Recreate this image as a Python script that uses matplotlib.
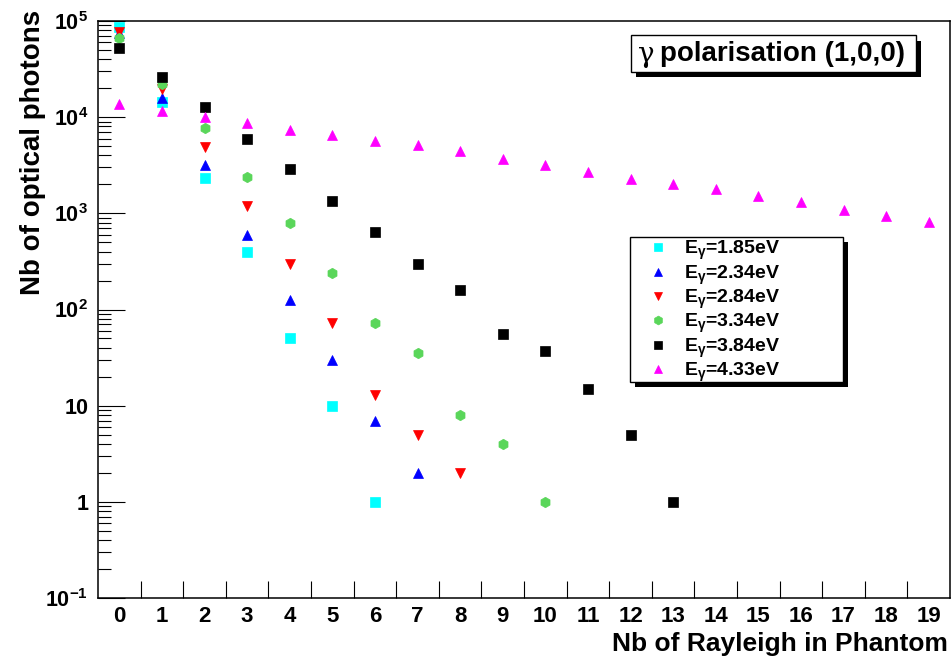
import numpy as np
import matplotlib
matplotlib.use("Agg")
import matplotlib.pyplot as plt
from matplotlib import font_manager
from matplotlib.font_manager import FontProperties
from matplotlib.patches import Rectangle
from matplotlib.ticker import FixedLocator, FuncFormatter, LogLocator, NullFormatter

# ---------------- data ----------------
rayleigh = list(range(20))
tick_labels_x = [str(i) for i in rayleigh]

n_185 = [86000, 14400, 2320, 395, 51, 10, 1]
n_234 = [75000, 16000, 3170, 593, 125, 30, 7, 2]
n_284 = [77000, 19400, 4900, 1190, 294, 73, 13, 5, 2]
n_334 = [66000, 22000, 7700, 2360, 785, 237, 73, 35, 8, 4, 1]
n_384 = [52000, 25900, 12800, 6000, 2880, 1340, 642, 299, 159, 55, 37, 15, 5, 1]
n_433 = [13600, 11600, 10100, 8730, 7330, 6550, 5670, 5080, 4400, 3660,
         3170, 2680, 2300, 2030, 1800, 1510, 1310, 1080, 942, 810]

series_labels = [r"E$_{\gamma}$=1.85eV", r"E$_{\gamma}$=2.34eV", r"E$_{\gamma}$=2.84eV",
                 r"E$_{\gamma}$=3.34eV", r"E$_{\gamma}$=3.84eV", r"E$_{\gamma}$=4.33eV"]
y_tick_values = [1e-1, 1, 10, 1e2, 1e3, 1e4, 1e5]
y_tick_labels = [r"$10^{-1}$", "1", "10", r"$10^{2}$", r"$10^{3}$", r"$10^{4}$", r"$10^{5}$"]

# ---------------- style ----------------
plt.rcParams["font.family"] = ["Liberation Sans", "DejaVu Sans"]
plt.rcParams["font.weight"] = "bold"
plt.rcParams["mathtext.fontset"] = "custom"
plt.rcParams["mathtext.rm"] = "Liberation Sans:bold"
plt.rcParams["mathtext.bf"] = "Liberation Sans:bold"
plt.rcParams["mathtext.it"] = "Liberation Sans:bold"
plt.rcParams["mathtext.sf"] = "Liberation Sans:bold"

names = {f.name for f in font_manager.fontManager.ttflist}
if "Liberation Sans Narrow" in names:
    narrow_family = ["Liberation Sans Narrow", "DejaVu Sans"]
    xt_size, xl_size = 17, 21
else:
    narrow_family = ["Liberation Sans", "DejaVu Sans"]
    xt_size, xl_size = 16, 19

W, H = 953, 660
fig = plt.figure(figsize=(W / 100, H / 100), dpi=100)
ax = fig.add_axes([98 / W, 62 / H, 852 / W, 577 / H])

colors = ["#00ffff", "#0000ff", "#ff0000", "#5ad65a", "#000000", "#ff00ff"]
markers = ["s", "^", "v", "h", "s", "^"]
sizes = [6.8, 6.5, 6.8, 7.5, 6.8, 6.5]
all_series = [n_185, n_234, n_284, n_334, n_384, n_433]

for vals, c, m, s, lab in zip(all_series, colors, markers, sizes, series_labels):
    ax.plot(rayleigh[:len(vals)], vals, linestyle="none", marker=m, ms=s,
            color=c, mec=c, mew=0.5, label=lab, zorder=3, clip_on=False)

ax.set_yscale("log")
ax.set_ylim(0.1, 1e5)
ax.set_xlim(-0.5, 19.5)

# x axis: labels at bin centres, ticks at bin edges
ax.xaxis.set_major_locator(FixedLocator(rayleigh))
ax.set_xticklabels(tick_labels_x)
ax.xaxis.set_minor_locator(FixedLocator(np.arange(0.5, 19, 1.0)))
ax.tick_params(axis="x", which="major", length=0, pad=6, labelsize=xt_size)
ax.tick_params(axis="x", which="minor", length=12.2, width=0.8, direction="in",
               top=False, bottom=True)
for lbl in ax.get_xticklabels():
    lbl.set_fontproperties(FontProperties(family=narrow_family, weight="bold", size=xt_size))

# y axis
ax.yaxis.set_major_locator(FixedLocator(y_tick_values))
lab_map = dict(zip(y_tick_values, y_tick_labels))
ax.yaxis.set_major_formatter(FuncFormatter(
    lambda v, p: min(lab_map.items(), key=lambda kv: abs(np.log10(kv[0]) - np.log10(v)))[1]))
ax.yaxis.set_minor_locator(LogLocator(base=10, subs=np.arange(2, 10), numticks=20))
ax.yaxis.set_minor_formatter(NullFormatter())
ax.tick_params(axis="y", which="major", length=19.4, width=0.8, direction="in",
               pad=7, labelsize=15.5, right=False)
ax.tick_params(axis="y", which="minor", length=9.4, width=0.8, direction="in", right=False)

for sp in ax.spines.values():
    sp.set_linewidth(1.1)

# axis titles
fig.text(33 / W, 1 - 10 / H, "Nb of optical photons", rotation=90, ha="center", va="top",
         fontsize=20, fontweight="bold")
fig.text(948 / W, 1 - 651 / H, "Nb of Rayleigh in Phantom", ha="right", va="baseline",
         fontproperties=FontProperties(family=narrow_family, weight="bold", size=xl_size))

# boxes with shadow
def boxed(x0, y0, x1, y1, off, z):
    ax.add_patch(Rectangle(((x0 + off) / W, 1 - (y1 + off) / H), (x1 - x0) / W, (y1 - y0) / H,
                           transform=fig.transFigure, clip_on=False, facecolor="black",
                           edgecolor="black", lw=0, zorder=z))
    ax.add_patch(Rectangle((x0 / W, 1 - y1 / H), (x1 - x0) / W, (y1 - y0) / H,
                           transform=fig.transFigure, clip_on=False, facecolor="white",
                           edgecolor="black", lw=1.0, zorder=z + 0.1))

boxed(631, 35, 916, 71.5, 5.5, 4)
ax.text(646 / W, 1 - 55 / H, "\u03b3", transform=fig.transFigure,
        ha="center", va="center", fontsize=20, fontweight="normal",
        family=["DejaVu Serif", "DejaVu Sans"], zorder=6)
ax.text(905 / W, 1 - 54 / H, "polarisation (1,0,0)", transform=fig.transFigure,
        ha="right", va="center", fontsize=20, fontweight="bold", zorder=6)

boxed(630, 237, 843, 382, 5, 4)
leg = ax.legend(loc="upper left", bbox_to_anchor=(648 / W, 1 - 239 / H),
                bbox_transform=fig.transFigure, frameon=False, borderpad=0,
                borderaxespad=0, handlelength=1.0, handletextpad=0.85,
                labelspacing=0.06, numpoints=1, markerscale=0.85,
                prop=FontProperties(family="Liberation Sans", weight="bold", size=14))
leg.set_zorder(6)

fig.savefig("out.png", dpi=100)
